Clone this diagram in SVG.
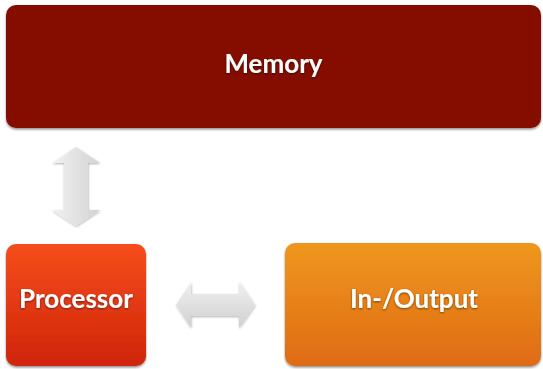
<svg xmlns="http://www.w3.org/2000/svg" width="543" height="369" viewBox="0 0 543 369">
  <style>
    .label { font-family: Lato, "Open Sans", "Liberation Sans", sans-serif; font-weight: bold; font-size: 26px; fill: #ffffff; text-anchor: middle; }
    .box { filter: url(#shadow); }
    .arrow { stroke: none; filter: url(#arrowShadow); }
  </style>
  <defs>
    <filter id="shadow" x="-5%" y="-5%" width="110%" height="115%">
      <feDropShadow dx="0" dy="1.5" stdDeviation="1.2" flood-color="#000000" flood-opacity="0.45"/>
    </filter>
    <filter id="arrowShadow" x="-20%" y="-20%" width="140%" height="140%">
      <feDropShadow dx="0.5" dy="1" stdDeviation="1" flood-color="#000000" flood-opacity="0.3"/>
    </filter>
    <filter id="textShadow" x="-10%" y="-20%" width="120%" height="150%">
      <feDropShadow dx="0" dy="1" stdDeviation="1" flood-color="#000000" flood-opacity="0.5"/>
    </filter>
    <linearGradient id="procFill" x1="0" y1="0" x2="0" y2="1">
      <stop offset="0" stop-color="#f64d1b"/>
      <stop offset="1" stop-color="#cf250a"/>
    </linearGradient>
    <linearGradient id="ioFill" x1="0" y1="0" x2="0" y2="1">
      <stop offset="0" stop-color="#ef971f"/>
      <stop offset="1" stop-color="#df6b13"/>
    </linearGradient>
    <linearGradient id="vArrowFill" x1="0" y1="0" x2="1" y2="0">
      <stop offset="0" stop-color="#f2f2f2"/>
      <stop offset="0.5" stop-color="#e2e2e2"/>
      <stop offset="1" stop-color="#d2d2d2"/>
    </linearGradient>
    <linearGradient id="hArrowFill" x1="0" y1="0" x2="0" y2="1">
      <stop offset="0" stop-color="#f0f0f0"/>
      <stop offset="0.5" stop-color="#e0e0e0"/>
      <stop offset="1" stop-color="#cfcfcf"/>
    </linearGradient>
  </defs>

  <!-- connectors: double-headed block arrows -->
  <g id="connectors">
    <path id="memory-processor" class="arrow" fill="url(#vArrowFill)"
          d="M76,147 L100,163 L88,163 L88,210 L100,210 L76,226 L52,210 L64,210 L64,163 L52,163 Z"/>
    <path id="processor-io" class="arrow" fill="url(#hArrowFill)"
          d="M176,305 L191,282 L191,294 L239,294 L239,282 L255,305 L239,328 L239,316 L191,316 L191,328 Z"/>
  </g>

  <g id="memory">
    <rect class="box" x="6" y="5" width="535" height="123" rx="10" fill="#841100"/>
    <text class="label" x="273.5" y="73" filter="url(#textShadow)">Memory</text>
  </g>

  <g id="processor">
    <rect class="box" x="6" y="244" width="140" height="122" rx="10" fill="url(#procFill)"/>
    <text class="label" x="76" y="308" filter="url(#textShadow)">Processor</text>
  </g>

  <g id="io">
    <rect class="box" x="285" y="243" width="256" height="123" rx="10" fill="url(#ioFill)"/>
    <text class="label" x="414" y="308" filter="url(#textShadow)">In-/Output</text>
  </g>
</svg>
